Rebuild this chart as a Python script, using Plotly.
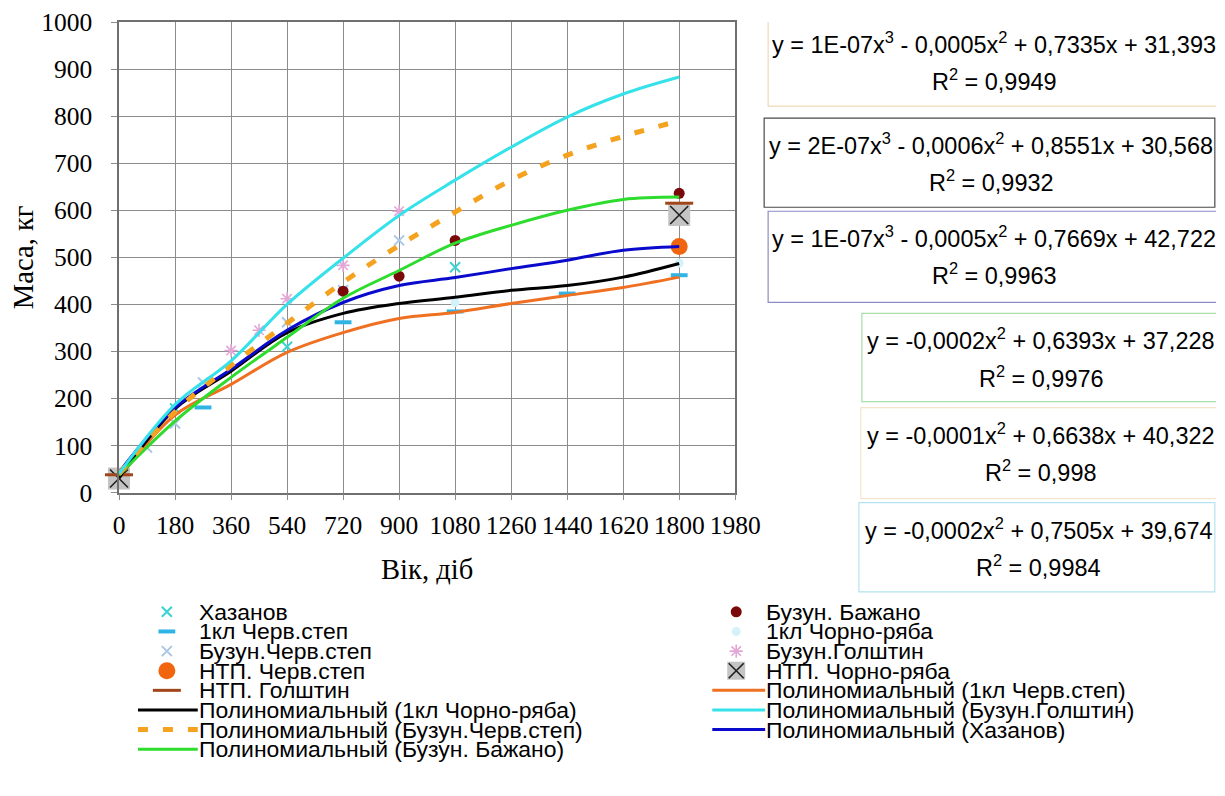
import plotly.graph_objects as go

# ---------------- data ----------------
days_khazanov = [0, 180, 540, 1080, 1800]
mass_khazanov = [35, 179, 310, 479, 520]

days_1kl_cherv = [0, 270, 720, 1080, 1440, 1800]
mass_1kl_cherv = [32, 181, 362, 385, 423, 462]

days_buzun_cherv = [0, 90, 180, 270, 540, 720, 900]
mass_buzun_cherv = [35, 96, 147, 234, 362, 430, 536]

days_ntp_cherv = [0, 1800]
mass_ntp_cherv = [32, 523]

days_ntp_golsht = [0, 1800]
mass_ntp_golsht = [38, 615]

days_buzun_bazh = [0, 720, 900, 1080, 1800]
mass_buzun_bazh = [35, 428, 460, 536, 636]

days_1kl_chorno = [0, 1080, 1800]
mass_1kl_chorno = [33, 404, 488]

days_buzun_golsht = [0, 360, 450, 540, 720, 900]
mass_buzun_golsht = [38, 302, 345, 412, 483, 598]

days_ntp_chorno = [0, 1800]
mass_ntp_chorno = [30, 590]

# polynomial trendlines, read at every 180 days
fit_days = [0, 180, 360, 540, 720, 900, 1080, 1260, 1440, 1620, 1800]
fit_1kl_chorno = [31, 178, 258, 340, 381, 402, 415, 430, 440, 458, 487]
fit_buzun_cherv = [40, 172, 270, 360, 447, 525, 596, 664, 717, 757, 790]
fit_buzun_bazh = [37, 152, 245, 330, 413, 472, 530, 568, 600, 623, 628]
fit_1kl_cherv = [31, 165, 230, 298, 340, 370, 383, 402, 419, 436, 458]
fit_buzun_golsht = [40, 187, 280, 400, 498, 589, 664, 734, 798, 847, 883]
fit_khazanov = [43, 180, 262, 345, 404, 440, 457, 476, 494, 515, 523]

x_ticks = [0, 180, 360, 540, 720, 900, 1080, 1260, 1440, 1620, 1800, 1980]
y_ticks = [0, 100, 200, 300, 400, 500, 600, 700, 800, 900, 1000]

eq_lines = [
    ("y = 1E-07x<sup>3</sup> - 0,0005x<sup>2</sup> + 0,7335x + 31,393", "R<sup>2</sup> = 0,9949"),
    ("y = 2E-07x<sup>3</sup> - 0,0006x<sup>2</sup> + 0,8551x + 30,568", "R<sup>2</sup> = 0,9932"),
    ("y = 1E-07x<sup>3</sup> - 0,0005x<sup>2</sup> + 0,7669x + 42,722", "R<sup>2</sup> = 0,9963"),
    ("y = -0,0002x<sup>2</sup> + 0,6393x + 37,228", "R<sup>2</sup> = 0,9976"),
    ("y = -0,0001x<sup>2</sup> + 0,6638x + 40,322", "R<sup>2</sup> = 0,998"),
    ("y = -0,0002x<sup>2</sup> + 0,7505x + 39,674", "R<sup>2</sup> = 0,9984"),
]

# ---------------- layout geometry ----------------
# observed: screen = S * (figure px + 8)
S, OFF = 0.98, 8
def fpx(p):
    return p / S - OFF

def fs(size):
    return size / S

W = int(round(1225 / S)) - 2 * OFF
H = int(round(796 / S)) - 2 * OFF
L, T = fpx(117), fpx(22)
R, B = 0, 0
PW, PH = W - L - R, H - T - B
x_dom_right = (fpx(735) - L) / PW
y_dom_bottom = (H - B - fpx(492)) / PH
# hidden helper axes in screen pixels
X2_RANGE = [S * (L + OFF), S * (W - R + OFF)]
Y2_RANGE = [S * (H - B + OFF), S * (T + OFF)]

SERIF = "Liberation Serif, Times New Roman, serif"
SANS = "Liberation Sans, Arial, sans-serif"

st = {
    "Хазанов": dict(symbol="x-thin", size=10, color="#3CD2D2", line=dict(width=2, color="#3CD2D2")),
    "1кл Черв.степ": dict(symbol="line-ew", size=12, color="#2FB4E4", line=dict(width=4, color="#2FB4E4")),
    "Бузун.Черв.степ": dict(symbol="x-thin", size=10, color="#A8C8E6", line=dict(width=2, color="#A8C8E6")),
    "НТП. Черв.степ": dict(symbol="circle", size=17, color="#F2650F", line=dict(width=0)),
    "НТП. Голштин": dict(symbol="line-ew", size=20, color="#A0461A", line=dict(width=3, color="#A0461A")),
    "Бузун. Бажано": dict(symbol="circle", size=11, color="#7A0A0A", line=dict(width=0)),
    "1кл Чорно-ряба": dict(symbol="circle", size=9, color="#D4F2FA", line=dict(width=0)),
    "Бузун.Голштин": dict(symbol="asterisk", size=11, color="#E3A6D6", line=dict(width=1.6, color="#E3A6D6")),
}
line_st = {
    "Полиномиальный (1кл Чорно-ряба)": dict(color="#000000", width=3),
    "Полиномиальный (Бузун.Черв.степ)": dict(color="#F5A21E", width=5, dash="10px,15px"),
    "Полиномиальный (Бузун. Бажано)": dict(color="#2EDC2E", width=3),
    "Полиномиальный (1кл Черв.степ)": dict(color="#F07022", width=3),
    "Полиномиальный (Бузун.Голштин)": dict(color="#36E2EA", width=3),
    "Полиномиальный (Хазанов)": dict(color="#0A0ACC", width=3),
}

fig = go.Figure()

scatter_series = [
    ("Хазанов", days_khazanov, mass_khazanov),
    ("1кл Черв.степ", days_1kl_cherv, mass_1kl_cherv),
    ("Бузун.Черв.степ", days_buzun_cherv, mass_buzun_cherv),
    ("1кл Чорно-ряба", days_1kl_chorno, mass_1kl_chorno),
    ("Бузун.Голштин", days_buzun_golsht, mass_buzun_golsht),
    ("НТП. Черв.степ", days_ntp_cherv, mass_ntp_cherv),
    ("Бузун. Бажано", days_buzun_bazh, mass_buzun_bazh),
]
for name, xs, ys in scatter_series:
    fig.add_trace(go.Scatter(x=xs, y=ys, mode="markers", name=name, marker=st[name],
                             cliponaxis=False, showlegend=False))

fig.add_trace(go.Scatter(x=days_ntp_chorno, y=mass_ntp_chorno, mode="markers", name="НТП. Чорно-ряба",
                         marker=dict(symbol="square", size=22, color="#C4C4C4", line=dict(width=0)),
                         cliponaxis=False, showlegend=False))
fig.add_trace(go.Scatter(x=days_ntp_chorno, y=mass_ntp_chorno, mode="markers", name="НТП. Чорно-ряба",
                         marker=dict(symbol="x-thin", size=18, color="#202020", line=dict(width=1.6, color="#202020")),
                         cliponaxis=False, showlegend=False))
fig.add_trace(go.Scatter(x=days_ntp_golsht, y=mass_ntp_golsht, mode="markers", name="НТП. Голштин",
                         marker=st["НТП. Голштин"], cliponaxis=False, showlegend=False))

fit_series = [
    ("Полиномиальный (1кл Черв.степ)", fit_1kl_cherv),
    ("Полиномиальный (1кл Чорно-ряба)", fit_1kl_chorno),
    ("Полиномиальный (Хазанов)", fit_khazanov),
    ("Полиномиальный (Бузун. Бажано)", fit_buzun_bazh),
    ("Полиномиальный (Бузун.Черв.степ)", fit_buzun_cherv),
    ("Полиномиальный (Бузун.Голштин)", fit_buzun_golsht),
]
for name, ys in fit_series:
    fig.add_trace(go.Scatter(x=fit_days, y=ys, mode="lines", name=name,
                             line=dict(shape="spline", smoothing=1.0, **line_st[name]),
                             showlegend=False))

# ---------------- hand-made legend (screen pixel coordinates on hidden axes) ----------------
left_items = ["Хазанов", "1кл Черв.степ", "Бузун.Черв.степ", "НТП. Черв.степ", "НТП. Голштин",
              "Полиномиальный (1кл Чорно-ряба)", "Полиномиальный (Бузун.Черв.степ)",
              "Полиномиальный (Бузун. Бажано)"]
right_items = ["Бузун. Бажано", "1кл Чорно-ряба", "Бузун.Голштин", "НТП. Чорно-ряба",
               "Полиномиальный (1кл Черв.степ)", "Полиномиальный (Бузун.Голштин)",
               "Полиномиальный (Хазанов)"]
ROW0, ROWGAP = 611, 19.6
annotations = []
for items, mx, lx0, lx1, tx in [(left_items, 165, 136, 196, 196), (right_items, 736, 712, 765, 765)]:
    for i, name in enumerate(items):
        yy = ROW0 + i * ROWGAP
        if name in line_st:
            fig.add_trace(go.Scatter(x=[lx0, lx1], y=[yy, yy], mode="lines", line=dict(line_st[name]),
                                     xaxis="x2", yaxis="y2", showlegend=False, hoverinfo="skip"))
        elif name == "НТП. Чорно-ряба":
            fig.add_trace(go.Scatter(x=[mx], y=[yy], mode="markers", xaxis="x2", yaxis="y2",
                                     marker=dict(symbol="square", size=18, color="#C4C4C4"),
                                     showlegend=False, hoverinfo="skip"))
            fig.add_trace(go.Scatter(x=[mx], y=[yy], mode="markers", xaxis="x2", yaxis="y2",
                                     marker=dict(symbol="x-thin", size=15, color="#202020",
                                                 line=dict(width=1.6, color="#202020")),
                                     showlegend=False, hoverinfo="skip"))
        else:
            fig.add_trace(go.Scatter(x=[mx], y=[yy], mode="markers", marker=st[name], xaxis="x2",
                                     yaxis="y2", showlegend=False, hoverinfo="skip"))
        annotations.append(dict(x=tx, y=yy, xref="x2", yref="y2", text=name, showarrow=False,
                                xanchor="left", yanchor="middle", borderpad=0,
                                font=dict(family=SANS, size=fs(22.5), color="#000")))

# ---------------- equation boxes ----------------
boxes = [  # x0, x1, y0, y1, border colour (screen px)
    (768, 1218, 17, 106, "#F0D9B5"),
    (764, 1216, 118, 207, "#4A4A4A"),
    (768, 1218, 211, 302, "#8C8CC6"),
    (862, 1218, 313, 401, "#A6DEA6"),
    (861, 1218, 407, 498, "#F4E4CE"),
    (859, 1216, 502, 591, "#B4E4EE"),
]
shapes = []
for (x0, x1, y0, y1, col), (l1, l2) in zip(boxes, eq_lines):
    shapes.append(dict(type="rect", xref="x2", yref="y2", x0=x0, x1=x1, y0=y0, y1=y1,
                       line=dict(color=col, width=1.2), fillcolor="rgba(0,0,0,0)"))
    cx = (x0 + x1) / 2 + 2
    annotations.append(dict(x=cx, y=y0 + 26, xref="x2", yref="y2", text=l1, showarrow=False,
                            xanchor="center", yanchor="middle",
                            font=dict(family=SANS, size=fs(23), color="#000")))
    annotations.append(dict(x=cx, y=y0 + 63, xref="x2", yref="y2", text=l2, showarrow=False,
                            xanchor="center", yanchor="middle",
                            font=dict(family=SANS, size=fs(23), color="#000")))

fig.update_layout(
    width=W, height=H,
    margin=dict(l=L, r=R, t=T, b=B),
    paper_bgcolor="white", plot_bgcolor="rgba(0,0,0,0)",
    showlegend=False,
    xaxis=dict(domain=[0, x_dom_right], range=[0, 1980], tickmode="array", tickvals=x_ticks,
               ticktext=[str(v) for v in x_ticks], showgrid=True, gridcolor="#8C8C8C", gridwidth=1,
               showline=True, linecolor="#707070", linewidth=1.5, mirror=True, zeroline=False,
               ticks="outside", ticklen=6, tickcolor="#8C8C8C", ticklabelstandoff=3,
               ticklabeloverflow="allow",
               tickfont=dict(family=SERIF, size=fs(25), color="#000"),
               title=dict(text="Вік, діб", font=dict(family=SERIF, size=fs(28), color="#000"), standoff=20),
               anchor="y"),
    yaxis=dict(domain=[y_dom_bottom, 1], range=[0, 1000], tickmode="array", tickvals=y_ticks,
               ticktext=[str(v) for v in y_ticks], showgrid=True,
               gridcolor="#8C8C8C", gridwidth=1, showline=True, linecolor="#707070", linewidth=1.5,
               mirror=True, zeroline=False, ticks="outside", ticklen=6, tickcolor="#8C8C8C",
               ticklabelstandoff=14, ticklabeloverflow="allow",
               tickfont=dict(family=SERIF, size=fs(25), color="#000"),
               title=dict(text="Маса, кг", font=dict(family=SERIF, size=fs(28), color="#000"), standoff=6),
               anchor="x"),
    xaxis2=dict(domain=[0, 1], range=X2_RANGE, visible=False, anchor="y2", fixedrange=True),
    yaxis2=dict(domain=[0, 1], range=Y2_RANGE, visible=False, anchor="x2", fixedrange=True),
    shapes=shapes,
    annotations=annotations,
)

fig.write_html("out.html")
